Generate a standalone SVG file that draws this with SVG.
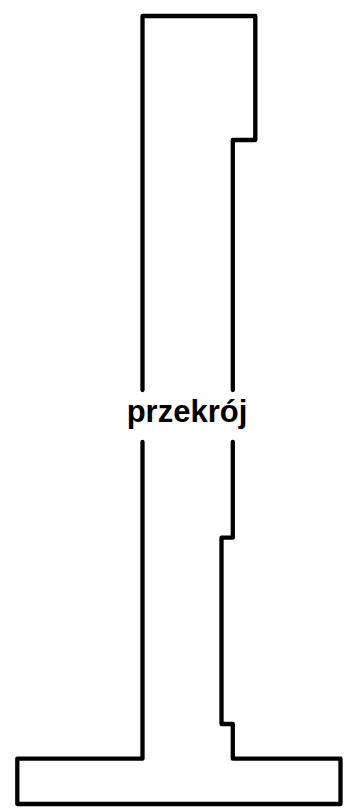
<svg xmlns="http://www.w3.org/2000/svg" width="349" height="810" viewBox="0 0 349 810">
<style>
.l{fill:none;stroke:#000;stroke-width:4.3;stroke-linecap:round;stroke-linejoin:round}
.t{font-family:"Liberation Sans",Arial,sans-serif;font-weight:bold;font-size:31px;fill:#000;text-anchor:middle}
</style>
<rect width="349" height="810" fill="#fff"/>
<g id="section">
<path class="l" d="M142.5 390V16H255.3V140H232.8V390"/>
<path class="l" d="M142.5 442V758.7H17.3V804H340.5V758.7H232.8V724H221.5V537.7H232.8V442"/>
</g>
<g id="label"><text class="t" x="187" y="422">przekrój</text></g>
</svg>
